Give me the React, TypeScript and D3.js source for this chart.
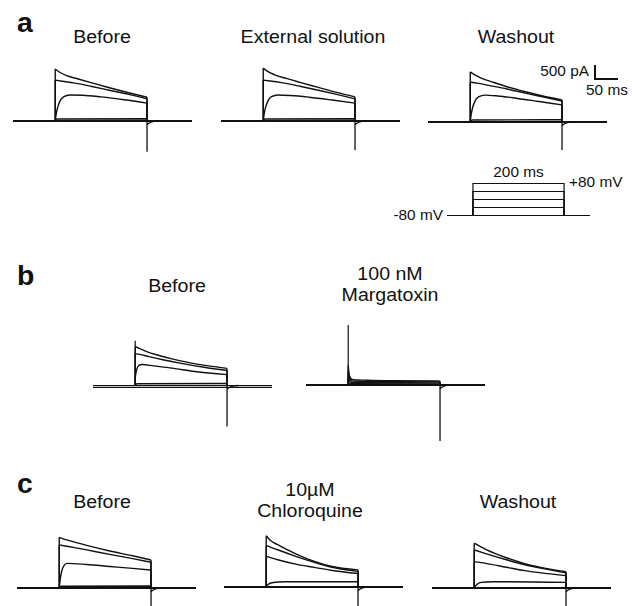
import React from "react";
import * as d3 from "d3";

type Pt = [number, number]; // [ms from step onset, pA]

// sweep window around the 200 ms depolarising step
const sweepWindow: [number, number] = [-92, 298];
const stepMs = 200;

// a: Before / External solution / Washout
const aBefore: Pt[][] = [
  [[0, 1860], [8, 1760], [25, 1620], [50, 1500], [80, 1360], [120, 1180], [160, 1010], [200, 850]],
  [[0, 1460], [15, 1420], [40, 1360], [80, 1230], [120, 1090], [160, 950], [200, 790]],
  [[0, 0], [2, 240], [5, 470], [10, 700], [18, 860], [32, 930], [60, 920], [100, 860], [150, 760], [200, 640]],
  [[0, 0], [4, 70], [200, 80]],
];
const aExternal: Pt[][] = [
  [[0, 1890], [8, 1790], [25, 1650], [50, 1520], [80, 1380], [120, 1200], [160, 1020], [200, 860]],
  [[0, 1460], [15, 1430], [40, 1370], [80, 1240], [120, 1100], [160, 950], [200, 790]],
  [[0, 0], [2, 250], [5, 480], [10, 710], [18, 870], [32, 930], [60, 910], [100, 850], [150, 750], [200, 640]],
  [[0, 0], [4, 70], [200, 80]],
];
const aWashout: Pt[][] = [
  [[0, 1790], [8, 1700], [25, 1560], [50, 1420], [80, 1260], [120, 1080], [160, 920], [200, 790]],
  [[0, 1430], [15, 1390], [40, 1310], [80, 1180], [120, 1030], [160, 890], [200, 750]],
  [[0, 0], [2, 260], [5, 500], [10, 730], [18, 900], [32, 960], [60, 930], [100, 850], [150, 730], [200, 610]],
  [[0, 0], [4, 70], [200, 80]],
];

// b: Before / 100 nM Margatoxin
const bBefore: Pt[][] = [
  [[0, 1390], [8, 1330], [25, 1210], [50, 1080], [80, 950], [120, 810], [160, 700], [200, 610]],
  [[0, 1140], [10, 1110], [30, 1030], [60, 920], [100, 790], [150, 650], [200, 535]],
  [[0, 300], [3, 560], [8, 720], [15, 750], [40, 700], [80, 620], [130, 500], [200, 390]],
  [[0, 0], [4, 60], [200, 70]],
];
const bMargatoxin: Pt[][] = [
  [[0, 700], [2, 380], [5, 240], [10, 190], [40, 170], [100, 150], [200, 140]],
  [[0, 500], [2, 280], [5, 180], [10, 140], [60, 125], [200, 110]],
  [[0, 300], [3, 140], [8, 90], [200, 75]],
  [[0, 150], [4, 50], [200, 40]],
];

// c: Before / 10 µM Chloroquine / Washout
const cBefore: Pt[][] = [
  [[0, 1810], [6, 1770], [20, 1700], [60, 1520], [110, 1320], [160, 1150], [200, 1000]],
  [[0, 1540], [20, 1480], [60, 1360], [110, 1200], [160, 1050], [200, 920]],
  [[0, 0], [2, 300], [5, 580], [10, 790], [17, 880], [60, 840], [110, 770], [160, 700], [200, 640]],
  [[0, 0], [4, 60], [200, 70]],
];
const cChloroquine: Pt[][] = [
  [[0, 1830], [8, 1680], [25, 1510], [69, 1150], [105, 915], [141, 740], [200, 610]],
  [[0, 1490], [25, 1330], [69, 1070], [105, 880], [141, 715], [200, 560]],
  [[0, 1095], [25, 975], [69, 800], [105, 700], [141, 600], [200, 480]],
  [[0, 0], [3, 80], [15, 160], [40, 185], [200, 190]],
];
const cWashout: Pt[][] = [
  [[0, 1600], [25, 1380], [70, 1080], [110, 870], [150, 720], [200, 580]],
  [[0, 1360], [25, 1230], [70, 1010], [110, 830], [150, 690], [200, 540]],
  [[0, 940], [25, 880], [70, 740], [110, 620], [150, 530], [200, 440]],
  [[0, 0], [5, 120], [15, 200], [40, 225], [200, 200]],
];

// capacitive transients (pA): onset spike, tail spike, small tail relaxation
const onsetSpikes = { bBefore: 1600, bMargatoxin: 2140 };
const tailSpikes = { aBefore: -1100, aExternal: -1040, aWashout: -1000, bBefore: -1460, bMargatoxin: -2000, cBefore: -700, cChloroquine: -700, cWashout: -700 };
const tailHook: Pt[] = [[200, -140], [203, -90], [208, -45], [215, -15], [225, 0]];

// voltage protocol (schematic)
const protocolLevels = ["-80", "+20", "+40", "+60", "+80"];
const protocolWindow: [number, number] = [-57, 257];

// scale bar
const barCurrent = 500; // pA
const barTime = 50; // ms

const pxPerMs = 0.459;
const pxPerPa = 14 / 500;
const ink = "#111";
const font = "'Liberation Sans', Arial, Helvetica, sans-serif";

function Label({ x, y, children, anchor = "middle", size = 18, weight = "normal", stretch = 1.12 }: any) {
  return (
    <text
      transform={`translate(${x},${y}) scale(${stretch},1)`}
      textAnchor={anchor}
      fontSize={size}
      fontWeight={weight}
      fontFamily={font}
      fill={ink}
    >
      {children}
    </text>
  );
}

function Sweeps({ traces, left, base, onset = 0, tail, holding = [0] }: any) {
  const x = d3
    .scaleLinear()
    .domain(sweepWindow)
    .range([left, left + (sweepWindow[1] - sweepWindow[0]) * pxPerMs]);
  const y = d3.scaleLinear().domain([0, 500]).range([base, base - 500 * pxPerPa]);
  const lin = d3.line<Pt>().x((d) => x(d[0])).y((d) => y(d[1]));
  const smooth = d3
    .line<Pt>()
    .x((d) => x(d[0]))
    .y((d) => y(d[1]))
    .curve(d3.curveMonotoneX);

  return (
    <g fill="none" stroke={ink} strokeLinejoin="round">
      {holding.map((h: number, i: number) => (
        <path
          key={"h" + i}
          d={lin([[sweepWindow[0], h], [sweepWindow[1], h]]) || ""}
          strokeWidth={holding.length > 1 ? 1.2 : 1.8}
        />
      ))}
      {traces.map((tr: Pt[], i: number) => {
        const last = tr[tr.length - 1][1];
        const d =
          (lin([[0, 0], [0, tr[0][1]]]) || "") +
          (smooth(tr) || "") +
          (lin([[stepMs, last], [stepMs, 0]]) || "");
        return <path key={i} d={d} strokeWidth={1.4} />;
      })}
      {onset !== 0 && <path d={lin([[0, 0], [0, onset]]) || ""} strokeWidth={1.2} />}
      <path d={(lin([[stepMs, 0], [stepMs, tail]]) || "") + (smooth(tailHook) || "")} strokeWidth={1.3} />
    </g>
  );
}

function Protocol() {
  const x = d3.scaleLinear().domain(protocolWindow).range([447, 590]);
  const y = d3.scalePoint<string>().domain(protocolLevels).range([215.5, 183.5]);
  const hold = y(protocolLevels[0]) as number;
  const top = y(protocolLevels[protocolLevels.length - 1]) as number;
  return (
    <g>
      <g fill="none" stroke={ink} strokeWidth={1.2}>
        <path d={`M${x(protocolWindow[0])},${hold}H${x(protocolWindow[1])}`} />
        {protocolLevels.slice(1).map((lv) => (
          <path key={lv} d={`M${x(0)},${hold}V${y(lv)}H${x(stepMs)}V${hold}`} />
        ))}
      </g>
      <Label x={x(stepMs / 2)} y={top - 7} size={14} stretch={1.1}>{`${stepMs} ms`}</Label>
      <Label x={x(stepMs) + 5} y={top + 3} size={14} stretch={1.1} anchor="start">{`${protocolLevels[protocolLevels.length - 1]} mV`}</Label>
      <Label x={x(protocolWindow[0]) - 4} y={hold + 4.5} size={14} stretch={1.1} anchor="end">{`${protocolLevels[0]} mV`}</Label>
    </g>
  );
}

function ScaleBar() {
  const x0 = 595;
  const y0 = 79;
  const x = d3.scaleLinear().domain([0, barTime]).range([x0, x0 + barTime * pxPerMs]);
  const y = d3.scaleLinear().domain([0, barCurrent]).range([y0, y0 - barCurrent * pxPerPa]);
  return (
    <g>
      <path d={`M${x(0)},${y(barCurrent)}V${y(0)}H${x(barTime)}`} fill="none" stroke={ink} strokeWidth={2} />
      <Label x={x(0) - 6} y={y(barCurrent) + 11} size={14} stretch={1.1} anchor="end">{`${barCurrent} pA`}</Label>
      <Label x={x(barTime) + 10} y={y0 + 16} size={14} stretch={1.1} anchor="end">{`${barTime} ms`}</Label>
    </g>
  );
}

export default function App() {
  const panels = [
    { traces: aBefore, left: 13, base: 121, tail: tailSpikes.aBefore, title: ["Before"], tx: 102, ty: 43 },
    { traces: aExternal, left: 221, base: 121, tail: tailSpikes.aExternal, title: ["External solution"], tx: 313, ty: 43 },
    { traces: aWashout, left: 428, base: 122, tail: tailSpikes.aWashout, title: ["Washout"], tx: 516, ty: 43 },
    { traces: bBefore, left: 93, base: 385.5, tail: tailSpikes.bBefore, onset: onsetSpikes.bBefore, holding: [0, -70], title: ["Before"], tx: 177, ty: 292 },
    { traces: bMargatoxin, left: 306, base: 385, tail: tailSpikes.bMargatoxin, onset: onsetSpikes.bMargatoxin, title: ["100 nM", "Margatoxin"], tx: 390, ty: 280 },
    { traces: cBefore, left: 17, base: 588, tail: tailSpikes.cBefore, title: ["Before"], tx: 102, ty: 508 },
    { traces: cChloroquine, left: 224, base: 587, tail: tailSpikes.cChloroquine, title: ["10\u00b5M", "Chloroquine"], tx: 310, ty: 496 },
    { traces: cWashout, left: 432, base: 588, tail: tailSpikes.cWashout, title: ["Washout"], tx: 518, ty: 508 },
  ];

  return (
    <svg
      width={641}
      height={606}
      viewBox="0 0 641 606"
      style={{ position: "absolute", left: 0, top: 0, background: "#fff" }}
    >
      <rect width={641} height={606} fill="#fff" />
      <Label x={17} y={32} size={27} weight="bold" anchor="start" stretch={1.05}>a</Label>
      <Label x={17} y={285} size={27} weight="bold" anchor="start" stretch={1.05}>b</Label>
      <Label x={17} y={493} size={27} weight="bold" anchor="start" stretch={1.05}>c</Label>
      {panels.map((p, i) => (
        <g key={i}>
          {p.title.map((t, j) => (
            <Label key={j} x={p.tx} y={p.ty + j * 20.5} size={17.5}>{t}</Label>
          ))}
          <Sweeps {...p} />
        </g>
      ))}
      <ScaleBar />
      <Protocol />
    </svg>
  );
}
